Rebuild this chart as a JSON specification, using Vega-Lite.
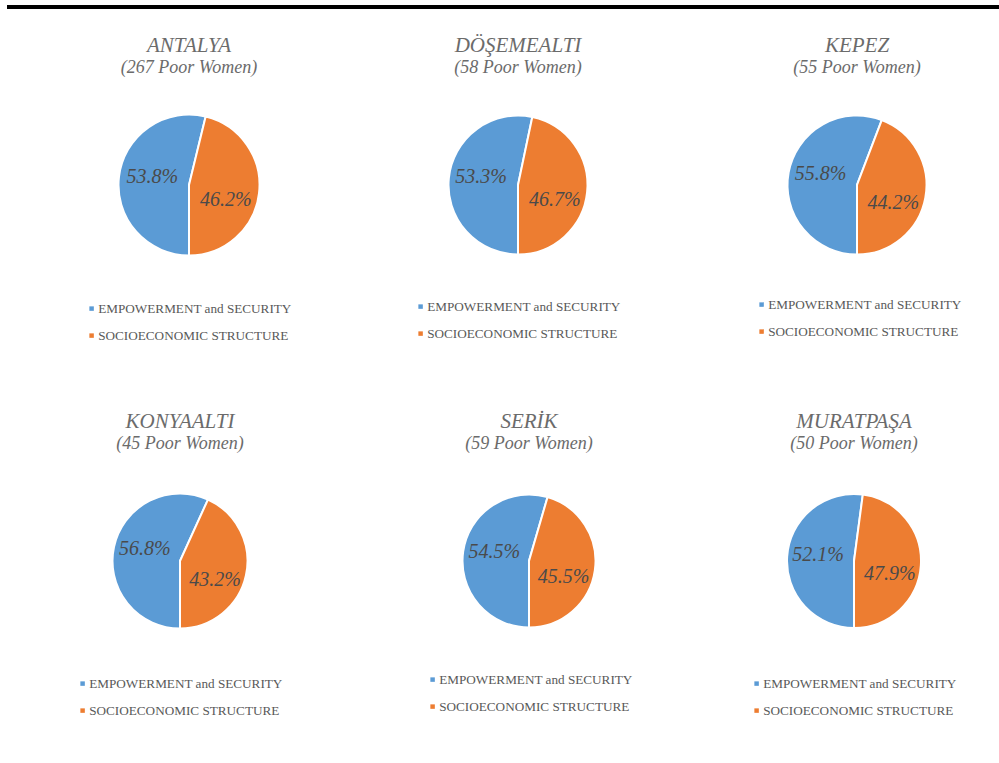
{
  "$schema": "https://vega.github.io/schema/vega-lite/v6.json",
  "padding": {"left": 5, "top": 5, "right": 0, "bottom": 0},
  "background": "white",
  "datasets": {
    "d": [
      {"district": "ANTALYA", "group": "EMPOWERMENT and SECURITY", "share": 0.538},
      {"district": "ANTALYA", "group": "SOCIOECONOMIC STRUCTURE", "share": 0.462},
      {"district": "DÖŞEMEALTI", "group": "EMPOWERMENT and SECURITY", "share": 0.533},
      {"district": "DÖŞEMEALTI", "group": "SOCIOECONOMIC STRUCTURE", "share": 0.467},
      {"district": "KEPEZ", "group": "EMPOWERMENT and SECURITY", "share": 0.558},
      {"district": "KEPEZ", "group": "SOCIOECONOMIC STRUCTURE", "share": 0.442},
      {"district": "KONYAALTI", "group": "EMPOWERMENT and SECURITY", "share": 0.568},
      {"district": "KONYAALTI", "group": "SOCIOECONOMIC STRUCTURE", "share": 0.432},
      {"district": "SERİK", "group": "EMPOWERMENT and SECURITY", "share": 0.545},
      {"district": "SERİK", "group": "SOCIOECONOMIC STRUCTURE", "share": 0.455},
      {"district": "MURATPAŞA", "group": "EMPOWERMENT and SECURITY", "share": 0.521},
      {"district": "MURATPAŞA", "group": "SOCIOECONOMIC STRUCTURE", "share": 0.479}
    ],
    "line": [{"y": 0}]
  },
  "resolve": {"scale": {"color": "independent", "theta": "independent"}, "legend": {"color": "independent"}},
  "spacing": 26,
  "vconcat": [
    {
      "width": 992,
      "height": 2,
      "data": {"name": "line"},
      "mark": {"type": "rule", "color": "#000000", "strokeWidth": 4},
      "encoding": {"y": {"field": "y", "type": "quantitative", "scale": {"domain": [0, 1]}, "axis": null}}
    },
    {
      "spacing": 69,
      "resolve": {"scale": {"color": "independent", "theta": "independent"}, "legend": {"color": "independent"}},
      "vconcat": [
        {
          "spacing": 52,
          "resolve": {"scale": {"color": "independent", "theta": "independent"}, "legend": {"color": "independent"}},
          "hconcat": [
            {
              "spacing": 0,
              "resolve": {"scale": {"color": "independent", "theta": "independent"}, "legend": {"color": "independent"}},
              "hconcat": [
                {
                  "width": 364, "height": 150,
                  "title": {"text": "ANTALYA", "subtitle": "(267 Poor Women)"},
                  "data": {"name": "d"},
                  "transform": [{"filter": "datum.district === 'ANTALYA'"}],
                  "encoding": {
                    "theta": {"field": "share", "type": "quantitative", "stack": true, "scale": {"range": [3.14159, 9.42478]}},
                    "order": {"field": "group", "type": "ordinal", "sort": "ascending"},
                    "color": {"field": "group", "type": "nominal", "scale": {"domain": ["EMPOWERMENT and SECURITY", "SOCIOECONOMIC STRUCTURE"], "range": ["#5B9BD5", "#ED7D31"]}, "legend": {"orient": "none", "legendX": 78, "legendY": 192}}
                  },
                  "layer": [
                    {"mark": {"type": "arc", "outerRadius": 70.5, "stroke": "#ffffff", "strokeWidth": 2}},
                    {"mark": {"type": "text", "radius": 37, "font": "Liberation Serif", "fontStyle": "italic", "fontSize": 20, "dy": {"expr": "datum.group === 'SOCIOECONOMIC STRUCTURE' ? 11 : -4"}}, "encoding": {"text": {"field": "share", "type": "quantitative", "format": ".1%"}, "color": {"value": "#4a4a4a"}}}
                  ]
                },
                {
                  "width": 294, "height": 150,
                  "title": {"text": "DÖŞEMEALTI", "subtitle": "(58 Poor Women)"},
                  "data": {"name": "d"},
                  "transform": [{"filter": "datum.district === 'DÖŞEMEALTI'"}],
                  "encoding": {
                    "theta": {"field": "share", "type": "quantitative", "stack": true, "scale": {"range": [3.14159, 9.42478]}},
                    "order": {"field": "group", "type": "ordinal", "sort": "ascending"},
                    "color": {"field": "group", "type": "nominal", "scale": {"domain": ["EMPOWERMENT and SECURITY", "SOCIOECONOMIC STRUCTURE"], "range": ["#5B9BD5", "#ED7D31"]}, "legend": {"orient": "none", "legendX": 43, "legendY": 190}}
                  },
                  "layer": [
                    {"mark": {"type": "arc", "outerRadius": 69.5, "stroke": "#ffffff", "strokeWidth": 2}},
                    {"mark": {"type": "text", "radius": 37, "font": "Liberation Serif", "fontStyle": "italic", "fontSize": 20, "dy": {"expr": "datum.group === 'SOCIOECONOMIC STRUCTURE' ? 11 : -4"}}, "encoding": {"text": {"field": "share", "type": "quantitative", "format": ".1%"}, "color": {"value": "#4a4a4a"}}}
                  ]
                }
              ]
            },
            {
              "width": 280, "height": 150,
              "title": {"text": "KEPEZ", "subtitle": "(55 Poor Women)"},
              "data": {"name": "d"},
              "transform": [{"filter": "datum.district === 'KEPEZ'"}],
              "encoding": {
                "theta": {"field": "share", "type": "quantitative", "stack": true, "scale": {"range": [3.14159, 9.42478]}},
                "order": {"field": "group", "type": "ordinal", "sort": "ascending"},
                "color": {"field": "group", "type": "nominal", "scale": {"domain": ["EMPOWERMENT and SECURITY", "SOCIOECONOMIC STRUCTURE"], "range": ["#5B9BD5", "#ED7D31"]}, "legend": {"orient": "none", "legendX": 38, "legendY": 188}}
              },
              "layer": [
                {"mark": {"type": "arc", "outerRadius": 69.5, "stroke": "#ffffff", "strokeWidth": 2}},
                {"mark": {"type": "text", "radius": 37, "font": "Liberation Serif", "fontStyle": "italic", "fontSize": 20, "dy": {"expr": "datum.group === 'SOCIOECONOMIC STRUCTURE' ? 11 : -4"}}, "encoding": {"text": {"field": "share", "type": "quantitative", "format": ".1%"}, "color": {"value": "#4a4a4a"}}}
              ]
            }
          ]
        },
        {
          "spacing": 9,
          "resolve": {"scale": {"color": "independent", "theta": "independent"}, "legend": {"color": "independent"}},
          "hconcat": [
            {
              "spacing": 0,
              "resolve": {"scale": {"color": "independent", "theta": "independent"}, "legend": {"color": "independent"}},
              "hconcat": [
                {
                  "width": 346, "height": 150,
                  "title": {"text": "KONYAALTI", "subtitle": "(45 Poor Women)"},
                  "data": {"name": "d"},
                  "transform": [{"filter": "datum.district === 'KONYAALTI'"}],
                  "encoding": {
                    "theta": {"field": "share", "type": "quantitative", "stack": true, "scale": {"range": [3.14159, 9.42478]}},
                    "order": {"field": "group", "type": "ordinal", "sort": "ascending"},
                    "color": {"field": "group", "type": "nominal", "scale": {"domain": ["EMPOWERMENT and SECURITY", "SOCIOECONOMIC STRUCTURE"], "range": ["#5B9BD5", "#ED7D31"]}, "legend": {"orient": "none", "legendX": 69, "legendY": 191}}
                  },
                  "layer": [
                    {"mark": {"type": "arc", "outerRadius": 67.5, "stroke": "#ffffff", "strokeWidth": 2}},
                    {"mark": {"type": "text", "radius": 36, "font": "Liberation Serif", "fontStyle": "italic", "fontSize": 20, "dy": {"expr": "datum.group === 'SOCIOECONOMIC STRUCTURE' ? 11 : -4"}}, "encoding": {"text": {"field": "share", "type": "quantitative", "format": ".1%"}, "color": {"value": "#4a4a4a"}}}
                  ]
                },
                {
                  "width": 352, "height": 150,
                  "title": {"text": "SERİK", "subtitle": "(59 Poor Women)"},
                  "data": {"name": "d"},
                  "transform": [{"filter": "datum.district === 'SERİK'"}],
                  "encoding": {
                    "theta": {"field": "share", "type": "quantitative", "stack": true, "scale": {"range": [3.14159, 9.42478]}},
                    "order": {"field": "group", "type": "ordinal", "sort": "ascending"},
                    "color": {"field": "group", "type": "nominal", "scale": {"domain": ["EMPOWERMENT and SECURITY", "SOCIOECONOMIC STRUCTURE"], "range": ["#5B9BD5", "#ED7D31"]}, "legend": {"orient": "none", "legendX": 73, "legendY": 187}}
                  },
                  "layer": [
                    {"mark": {"type": "arc", "outerRadius": 66.5, "stroke": "#ffffff", "strokeWidth": 2}},
                    {"mark": {"type": "text", "radius": 35, "font": "Liberation Serif", "fontStyle": "italic", "fontSize": 20, "dy": {"expr": "datum.group === 'SOCIOECONOMIC STRUCTURE' ? 11 : -4"}}, "encoding": {"text": {"field": "share", "type": "quantitative", "format": ".1%"}, "color": {"value": "#4a4a4a"}}}
                  ]
                }
              ]
            },
            {
              "width": 280, "height": 150,
              "title": {"text": "MURATPAŞA", "subtitle": "(50 Poor Women)"},
              "data": {"name": "d"},
              "transform": [{"filter": "datum.district === 'MURATPAŞA'"}],
              "encoding": {
                "theta": {"field": "share", "type": "quantitative", "stack": true, "scale": {"range": [3.14159, 9.42478]}},
                "order": {"field": "group", "type": "ordinal", "sort": "ascending"},
                "color": {"field": "group", "type": "nominal", "scale": {"domain": ["EMPOWERMENT and SECURITY", "SOCIOECONOMIC STRUCTURE"], "range": ["#5B9BD5", "#ED7D31"]}, "legend": {"orient": "none", "legendX": 36, "legendY": 191}}
              },
              "layer": [
                {"mark": {"type": "arc", "outerRadius": 67, "stroke": "#ffffff", "strokeWidth": 2}},
                {"mark": {"type": "text", "radius": 36, "font": "Liberation Serif", "fontStyle": "italic", "fontSize": 20, "dy": {"expr": "datum.group === 'SOCIOECONOMIC STRUCTURE' ? 11 : -4"}}, "encoding": {"text": {"field": "share", "type": "quantitative", "format": ".1%"}, "color": {"value": "#4a4a4a"}}}
              ]
            }
          ]
        }
      ]
    }
  ],
  "config": {
    "view": {"stroke": null},
    "title": {
      "font": "Liberation Serif", "fontStyle": "italic", "fontWeight": "normal", "fontSize": 21, "color": "#6b6b6b",
      "subtitleFont": "Liberation Serif", "subtitleFontStyle": "italic", "subtitleFontSize": 18, "subtitleColor": "#6b6b6b",
      "anchor": "middle", "offset": 33, "subtitlePadding": 3
    },
    "legend": {
      "title": null, "symbolType": "square", "symbolSize": 20, "symbolStrokeWidth": 0, "labelOffset": 0,
      "labelFont": "Liberation Serif", "labelFontSize": 13.2, "labelColor": "#595959", "rowPadding": 13, "labelLimit": 400
    }
  }
}
